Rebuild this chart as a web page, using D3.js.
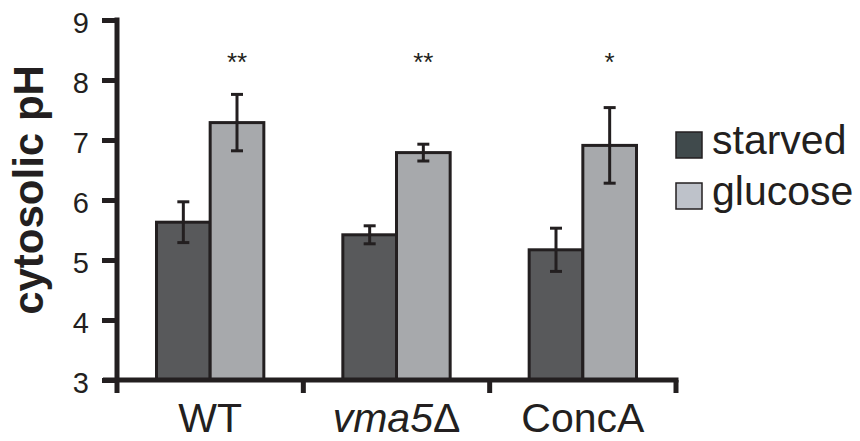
<!DOCTYPE html>
<html>
<head>
<meta charset="utf-8">
<script src="https://cdn.jsdelivr.net/npm/d3@7"></script>
<style>
  html, body { margin: 0; padding: 0; background: #fff; }
  svg { display: block; font-family: "Liberation Sans", Arial, Helvetica, sans-serif; }
</style>
</head>
<body>
<svg id="chart" width="860" height="441"></svg>
<script>
// ---- data ----
const categories = ["WT", "vma5", "ConcA"];
const categoryLabels = [["WT", ""], ["vma5", "Δ"], ["ConcA", ""]];
const series = ["starved", "glucose"];
const starvedValues = [5.63, 5.42, 5.17];
const starvedErrors = [0.34, 0.15, 0.36];
const glucoseValues = [7.29, 6.79, 6.91];
const glucoseErrors = [0.47, 0.14, 0.63];
const significance = ["**", "**", "*"];
const yTicks = [3, 4, 5, 6, 7, 8, 9];

const ink = "#231f20";
const barColors = { starved: "#58595b", glucose: "#a7a9ac" };
const legendColors = { starved: "#404a4c", glucose: "#bec2ca" };

const svg = d3.select("#chart");

const y = d3.scaleLinear().domain([3, 9]).range([380, 20]);
const x = d3.scaleBand().domain(categories).range([117, 676]).padding(0);
const xs = d3.scaleBand().domain(series).range([39.5, x.bandwidth() - 39.5]).padding(0);

const rows = [];
categories.forEach((c, i) => {
  rows.push({ cat: c, s: "starved", v: starvedValues[i], e: starvedErrors[i] });
  rows.push({ cat: c, s: "glucose", v: glucoseValues[i], e: glucoseErrors[i] });
});

// bars
svg.append("g").selectAll("rect").data(rows).join("rect")
  .attr("x", d => x(d.cat) + xs(d.s))
  .attr("y", d => y(d.v))
  .attr("width", xs.bandwidth())
  .attr("height", d => y(3) - y(d.v))
  .attr("fill", d => barColors[d.s])
  .attr("stroke", ink)
  .attr("stroke-width", 3);

// error bars
const eg = svg.append("g").attr("stroke", ink).attr("stroke-width", 3);
rows.forEach(d => {
  const cx = x(d.cat) + xs(d.s) + xs.bandwidth() / 2;
  eg.append("line").attr("x1", cx).attr("x2", cx).attr("y1", y(d.v + d.e)).attr("y2", y(d.v - d.e));
  eg.append("line").attr("x1", cx - 6).attr("x2", cx + 6).attr("y1", y(d.v + d.e)).attr("y2", y(d.v + d.e));
  eg.append("line").attr("x1", cx - 6).attr("x2", cx + 6).attr("y1", y(d.v - d.e)).attr("y2", y(d.v - d.e));
});

// significance stars
svg.append("g").selectAll("text").data(categories).join("text")
  .attr("x", c => x(c) + xs("glucose") + xs.bandwidth() / 2)
  .attr("y", 71)
  .attr("text-anchor", "middle")
  .attr("font-size", 26)
  .attr("fill", ink)
  .text((c, i) => significance[i]);

// y axis
const yAxis = svg.append("g").attr("transform", "translate(117,0)")
  .call(d3.axisLeft(y).tickValues(yTicks).tickFormat(d3.format("d")).tickSize(15).tickSizeOuter(0).tickPadding(13));
yAxis.select(".domain").remove();
yAxis.selectAll(".tick line").attr("stroke", ink).attr("stroke-width", 5);
yAxis.selectAll(".tick text").attr("font-size", 29).attr("fill", ink).attr("font-family", null).attr("dy", "0.42em");
svg.append("line").attr("x1", 117).attr("x2", 117).attr("y1", y(9) - 2.5).attr("y2", 393)
  .attr("stroke", ink).attr("stroke-width", 5);

// x axis
svg.append("line").attr("x1", 103).attr("x2", x.range()[1] + 2.5).attr("y1", y(3)).attr("y2", y(3))
  .attr("stroke", ink).attr("stroke-width", 5);
const bounds = categories.map(c => x(c) + x.bandwidth());
svg.append("g").selectAll("line").data(bounds).join("line")
  .attr("x1", d => d).attr("x2", d => d).attr("y1", y(3)).attr("y2", 393)
  .attr("stroke", ink).attr("stroke-width", 5);

const xl = svg.append("g").selectAll("text").data(categories).join("text")
  .attr("x", c => x(c) + x.bandwidth() / 2)
  .attr("y", 432)
  .attr("text-anchor", "middle")
  .attr("font-size", 41)
  .attr("fill", ink);
xl.each(function (c, i) {
  const t = d3.select(this);
  const [main, suffix] = categoryLabels[i];
  t.append("tspan").attr("font-style", c === "vma5" ? "italic" : "normal").text(main);
  if (suffix) t.append("tspan").text(suffix);
});

// y title
svg.append("text")
  .attr("transform", "translate(43,190) rotate(-90)")
  .attr("text-anchor", "middle")
  .attr("font-size", 42)
  .attr("font-weight", "bold")
  .attr("fill", ink)
  .text("cytosolic pH");

// legend
const lg = svg.append("g").selectAll("g").data(series).join("g")
  .attr("transform", (s, i) => `translate(676,${132 + i * 51})`);
lg.append("rect").attr("width", 26).attr("height", 26)
  .attr("fill", s => legendColors[s]).attr("stroke", ink).attr("stroke-width", 1.5);
lg.append("text").attr("x", 36).attr("y", 22).attr("font-size", 41).attr("fill", ink).text(s => s);
</script>
</body>
</html>
